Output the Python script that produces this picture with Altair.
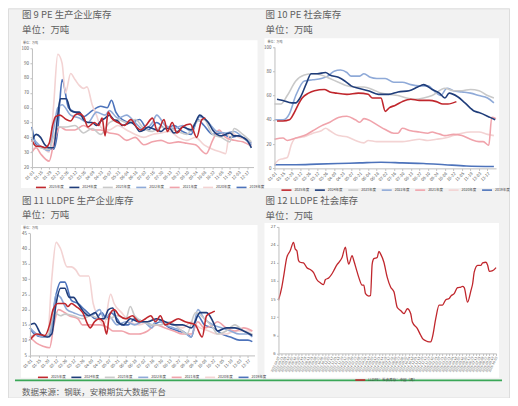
import altair as alt
import pandas as pd

BG = "#f2f2f2"
FONT = "Noto Sans CJK SC"
TXT = "#606060"
AX = "#bfbfbf"
LAB = "#595959"
GREEN = "#3aa757"

years = ["2025年度", "2024年度", "2023年度", "2022年度", "2021年度", "2020年度", "2019年度"]
year_colors = ["#c0272d", "#1f3d7a", "#c9c9c9", "#8faad8", "#f0a3ab", "#f3d3d3", "#4d73bb"]
year_widths = [1.6, 1.6, 1.2, 1.2, 1.2, 1.2, 1.2]

# ---------------- 图9 PE 生产企业库存 ----------------
pe_prod_2025_w = [0, 1, 2, 3, 4, 4.8, 5.5, 6.5, 8, 9, 10, 11, 12, 13, 14.5, 15.5, 16.3, 17, 17.7, 18.5,
                  20, 21.5, 23, 24.3, 25.3, 26.5, 28, 29.2, 30.7, 31.5, 32.6, 33.7, 35, 36.8, 38.3, 39.5, 40.3]
pe_prod_2025_v = [38, 34, 34, 33, 36, 48, 54, 55, 52, 51, 55, 56, 54, 47, 50, 48, 53, 41, 57, 53,
                  50, 48, 52, 47, 45, 48, 53, 44, 52, 44, 50, 43, 47, 49, 40, 52, 53]
pe_prod_2024_w = [0, 1, 2, 3, 4, 5, 6, 6.6] + list(range(8, 52))
pe_prod_2024_v = [38, 42, 40, 35, 33, 33, 55, 66, 66, 58, 57, 57, 52, 50, 50, 48, 51, 53,
                  55, 52, 51, 48, 49, 50, 48, 44, 45, 47, 46, 45, 44, 46, 46, 43, 44, 47, 46, 45,
                  50, 55, 53, 50, 45, 42, 41, 42, 43, 41, 41, 40, 38, 33]
pe_prod_2023_w = [0, 2, 4, 5, 6, 8, 10, 12, 14, 16, 18, 20, 22, 24, 26, 28, 30, 32, 34, 36, 38, 40, 42, 44, 46, 47, 49, 51]
pe_prod_2023_v = [36, 33, 32, 40, 47, 47, 48, 43, 46, 42, 50, 52, 50, 52, 46, 44, 47, 46, 44, 42, 50, 52, 42, 40, 37, 46, 42, 37]
pe_prod_2022_w = [0, 2, 4, 5, 6, 7, 9, 11, 13, 15, 17, 18, 20, 22, 24, 26, 28, 29, 31, 33, 35, 37, 39, 41, 43, 45, 47, 49, 51]
pe_prod_2022_v = [40, 34, 31, 45, 60, 62, 55, 53, 50, 57, 55, 58, 53, 55, 50, 45, 50, 55, 48, 46, 48, 44, 54, 50, 44, 43, 44, 40, 35]
pe_prod_2021_w = [0, 1, 2, 4, 5, 6.5, 8, 10, 12, 14, 16, 18, 20, 22, 24, 26, 28, 30, 32, 34, 36, 38, 40.5, 42, 43.5, 45, 47, 49, 51]
pe_prod_2021_v = [30, 33, 29, 24, 35, 47, 45, 45, 48, 45, 45, 43, 42, 38, 40, 35, 37, 38, 36, 37, 36, 35, 29, 38, 45, 40, 38, 37, 34]
pe_prod_2020_w = [0, 2, 4, 5, 6, 7, 7.8, 9, 10, 11, 12, 12.8, 14, 15, 16, 17, 18, 20, 22, 24,
                  26, 28, 30, 32, 34, 36, 38, 40, 42, 44, 45, 46, 48, 50, 51]
pe_prod_2020_v = [32, 34, 30, 60, 96, 90, 70, 83, 79, 75, 73, 74, 62, 55, 47, 45, 45, 48, 45, 42,
                  40, 42, 43, 44, 40, 38, 40, 35, 32, 30, 29, 44, 40, 38, 35]
pe_prod_2019_w = [0, 1, 3, 5, 6, 6.5, 7, 8.5, 10, 12, 14, 16, 17.5, 18.5, 19.5, 21, 23, 25, 27, 29,
                  31, 33, 35, 37, 38.5, 40, 42, 44, 46, 48, 50, 51]
pe_prod_2019_v = [47, 35, 33, 32, 45, 65, 79, 60, 57, 54, 58, 61, 60, 65, 57, 52, 50, 52, 45, 50,
                  46, 48, 44, 42, 52, 48, 42, 43, 40, 41, 38, 36]

# ---------------- 图10 PE 社会库存 ----------------
pe_soc_2025_w = [0.6, 2, 3.5, 4.5, 5.5, 6.5, 8, 9.4, 11.7, 13, 14.5, 17, 19.7, 22, 23, 25, 26, 27, 28.4, 30,
                 32, 34, 36.3, 38, 39.5, 40.7, 42.7]
pe_soc_2025_v = [39, 39, 40, 45, 52, 58, 62, 64, 65, 63, 62, 61, 62, 61, 58, 58, 47, 50, 52, 55,
                 57, 56, 56, 55, 53, 53, 55]
pe_soc_2024_w = [0.6, 2, 4, 5, 6, 7.5, 8.6, 10, 12, 13, 15, 16.5, 18, 19.7, 22, 24.4, 26.8, 29, 31.6, 33.6,
                 35, 37, 38.7, 40, 41, 43, 44.7, 47, 48, 50.6, 51.8]
pe_soc_2024_v = [57, 56, 54, 54, 58, 70, 78, 78, 79, 77, 75, 72, 68, 66, 64, 61, 61, 63, 64, 67,
                 69, 65, 62, 58, 62, 59, 54, 47, 46, 42, 40]
pe_soc_2023_w = [0, 1.5, 3, 5, 7, 9, 11, 13, 15, 17, 19, 21, 23, 25, 27, 29, 31, 33, 35, 37, 40, 42, 44, 46, 48, 50, 51.5]
pe_soc_2023_v = [53, 53, 60, 72, 77, 78, 77, 74, 71, 68, 67, 67, 65, 62, 61, 60, 58, 57, 58, 60, 66, 64, 64, 65, 64, 60, 58]
pe_soc_2022_w = [0, 2, 3.5, 5, 7, 9, 11, 12.5, 14, 15.5, 17, 18, 20, 21, 22.5, 24, 26, 28, 30, 32,
                 34, 36, 38, 39, 40.5, 42, 44, 46, 48, 50, 51.5]
pe_soc_2022_v = [40, 40, 45, 60, 72, 73, 74, 76, 80, 81, 79, 76, 76, 78, 75, 74, 74, 71, 71, 69,
                 68, 68, 62, 60, 66, 64, 63, 62, 60, 58, 54]
pe_soc_2021_w = [0, 2, 3, 5, 7, 9, 11, 13, 15, 17, 19, 20, 21, 22, 24, 26, 28, 29, 30, 32,
                 34, 36, 37, 38, 39, 40, 42, 44, 46, 48, 49, 50.3, 51, 52]
pe_soc_2021_v = [24, 25, 23, 25, 27, 31, 35, 38, 42, 43, 40, 38, 41, 40, 36, 32, 29, 29, 33, 31,
                 30, 29, 30, 29, 28, 27, 28, 27, 24, 22, 22, 19, 42, 41]
pe_soc_2020_w = [0, 1, 2, 3, 4, 5, 7, 9, 11, 12, 13, 15, 17, 19, 21, 22, 24, 26, 28, 30,
                 32, 34, 36, 38, 40, 42, 44, 46, 48, 50, 51.5]
pe_soc_2020_v = [3, 7, 8, 9, 20, 25, 26, 29, 31, 33, 31, 27, 26, 23, 21, 23, 22, 22, 22, 22,
                 23, 24, 23, 24, 25, 27, 29, 30, 30, 28, 27]
pe_soc_2019_w = [0, 5, 10, 15, 20, 25, 30, 35, 40, 45, 51.5]
pe_soc_2019_v = [3, 3, 3.5, 4, 4.5, 5, 4.5, 4, 3, 2, 1.5]

# ---------------- 图11 LLDPE 生产企业库存 ----------------
ll_prod_2025_w = [0, 1.5, 3.4, 4.5, 5.3, 6.4, 8, 8.7, 9.5, 10.6, 12.1, 13.3, 13.8, 14.8, 15.9, 16.8, 17.6, 18.2, 19.3, 20.5,
                  22, 23.5, 25, 26.5, 27.7, 28.8, 29.9, 31, 32.6, 34, 35.6, 37.9, 39.5, 40.5, 41.7, 42.4]
ll_prod_2025_v = [10, 12, 11.5, 15, 20, 22, 22, 21, 22, 21, 19, 15, 14, 16, 17, 16, 12, 18, 20, 18,
                  17, 18, 16, 17, 18, 16, 18, 15, 16, 17, 16, 15, 11, 18, 19, 19.5]
ll_prod_2024_w = [0, 1, 2.5, 4, 5, 6, 7, 8, 9, 10, 11, 12.5, 13.5, 15, 16, 17, 18, 19, 20, 21.5,
                  23, 25, 27, 29, 31, 33, 35, 37, 39, 40.5, 42, 43, 45, 47, 49, 51]
ll_prod_2024_v = [15, 15.5, 12, 11, 12, 22, 27, 27, 24, 24, 22, 19, 18, 19, 17, 17, 20, 20.5, 16, 15,
                  17, 16, 16, 17, 16, 15, 15, 14, 19, 19, 16, 13, 14, 14, 13, 11.5]
ll_prod_2023_w = [0, 2, 4, 5.5, 7, 8, 10, 12, 14, 16, 18, 20, 22, 23, 24, 26, 28, 30, 32, 34,
                  36, 38, 40, 42, 43, 45, 47, 49, 51]
ll_prod_2023_v = [11, 12, 11, 19, 18, 18.5, 18, 17, 18, 17, 17, 18, 17, 21, 18, 16, 15, 15, 16, 14,
                  12, 19, 17, 14, 12, 13, 15, 13, 12]
ll_prod_2022_w = [0, 1.5, 3, 4.5, 6, 7, 8.5, 10, 12, 14, 16, 17, 18, 20, 22, 24, 26, 28, 29, 31,
                  33, 35, 37, 38.5, 40, 42, 44, 46, 48, 50, 51]
ll_prod_2022_v = [14, 12, 11, 11, 25, 24, 20, 19, 18, 18, 20, 17, 18, 15, 16, 15, 16, 14, 17, 15,
                  14, 13, 11, 20, 17, 15, 14, 13, 12, 12, 11]
ll_prod_2021_w = [0, 1.5, 3, 4.5, 5.5, 6.5, 8, 9, 11, 12, 14, 16, 18, 19, 21, 23, 25, 27, 29, 31,
                  33, 35, 37, 38.5, 40, 42, 43, 45, 47, 49, 51]
ll_prod_2021_v = [11, 9, 8, 7.5, 15, 20, 19, 18, 17, 15, 15, 15, 14, 13, 13, 12, 12, 13, 15, 14,
                  13, 12, 12, 16, 14, 15, 16, 14, 13, 14, 13]
ll_prod_2020_w = [0, 2, 4, 5, 6, 7, 8.5, 9.5, 10.5, 11.5, 12.5, 13.5, 14.5, 15.5, 17, 18.5, 19.3, 21, 23, 25,
                  27, 29, 31, 33, 35, 37, 39, 41, 43, 45, 47, 49, 51]
ll_prod_2020_v = [10, 12, 11, 30, 42, 40, 34, 34, 33, 31, 31, 31, 22, 18, 15, 25, 22, 19, 16, 15,
                  16, 17, 16, 15, 14, 16, 14, 13, 12, 12, 13, 13, 13]
ll_prod_2019_w = [0, 1, 3, 4.5, 6, 7, 8, 9.5, 11, 12.5, 14, 15, 16.5, 17.5, 18.5, 20, 21, 22.5, 24, 26,
                  28, 30, 32, 34, 36, 37, 38.5, 40, 42, 44, 46, 48, 50, 51]
ll_prod_2019_v = [14, 12, 11, 12, 25, 29, 29, 23, 22, 20, 18, 17, 19, 17, 19, 17, 15, 15, 17, 16,
                  15, 16, 14, 13, 12, 11, 18, 15, 14, 12, 11, 10, 10, 9.5]

# ---------------- 图12 LLDPE 社会库存 ----------------
ll_soc_name = "LLDPE：社会库存：中国（周）"
ll_soc_w = [0, 2, 3, 5, 7, 9, 10, 11, 12, 13, 15, 17, 19, 21, 23, 25, 27, 28, 30, 32,
            33, 35, 37, 38, 40, 41, 42, 44, 45, 47, 48, 50, 51, 52, 54, 55, 56, 57, 59, 60,
            61, 63, 65, 67, 69, 71, 73, 75, 77, 79, 80, 83, 85, 86, 88, 90, 91, 92, 94, 96,
            98, 100, 102, 103, 105, 107, 109, 110, 111, 113, 115, 116, 117, 119, 121, 122, 124, 125, 126, 128,
            130]
ll_soc_v = [14.8, 17.0, 18.6, 21.9, 23.0, 24.4, 23.3, 23.0, 21.4, 21.1, 21.0, 20.2, 19.9, 19.4, 18.2, 17.7, 17.4, 18.2, 18.5, 19.2,
            19.7, 20.7, 21.4, 21.9, 23.6, 21.9, 20.8, 22.2, 21.4, 19.5, 18.6, 17.3, 17.3, 15.9, 15.5, 15.6, 20.8, 21.7, 21.9, 22.9,
            22.5, 21.1, 18.6, 17.0, 16.2, 13.6, 13.1, 12.6, 13.4, 12.6, 11.2, 10.1, 9.0, 8.5, 8.1, 7.9, 7.9, 8.7, 11.8, 14.0,
            14.0, 14.9, 15.1, 15.5, 15.9, 16.9, 17.0, 17.1, 16.9, 14.5, 16.4, 17.5, 19.5, 20.6, 20.6, 21.0, 21.1, 20.6, 19.6, 19.7,
            20.2]

pe_week_ticks = list(range(0, 52, 2))
ll_soc_ticks = list(range(0, 131, 2))

# One single view covers the whole page; every panel gets its own scales.
W, H = 502, 390


def series_df(pairs):
    rows = []
    for year, ws, vs in pairs:
        assert len(ws) == len(vs), year
        for w, v in zip(ws, vs):
            rows.append({"year": year, "week": w, "value": v})
    return pd.DataFrame(rows)


one = pd.DataFrame({"k": [0]})


def rect(x, x2, y, y2, color):
    return alt.Chart(one).mark_rect(color=color, strokeWidth=0).encode(
        x=alt.value(x), x2=alt.value(x2), y=alt.value(y), y2=alt.value(y2))


def label(text, x, y, size, color=TXT):
    return alt.Chart(pd.DataFrame({"t": [text]})).mark_text(
        align="left", baseline="middle", fontSize=size, color=color, font=FONT
    ).encode(x=alt.value(x), y=alt.value(y), text="t:N")


def hrule(x, x2, y):
    return alt.Chart(one).mark_rule(color=GREEN, strokeWidth=1.6).encode(
        x=alt.value(x), x2=alt.value(x2), y=alt.value(y))


def x_axis(values, expr, angle, size, offset):
    return alt.Axis(values=values, labelExpr=expr, labelAngle=angle, labelFontSize=size,
                    labelColor=LAB, tickSize=2, tickColor=AX, domainColor=AX, labelPadding=1,
                    title=None, grid=False, labelOverlap=False, labelFlush=False, zindex=1,
                    offset=offset, orient="bottom")


def y_axis(values, offset, size=4.5):
    return alt.Axis(values=values, labelFontSize=size, labelColor=LAB, tickSize=2, tickColor=AX,
                    domainColor=AX, labelPadding=1.5, title=None, grid=False, labelOverlap=False,
                    labelFlush=False, zindex=1, offset=offset, orient="left")


def legend(lx, ly):
    return alt.Legend(orient="none", legendX=lx, legendY=ly, direction="horizontal", columns=7,
                      symbolType="stroke", symbolSize=100, symbolStrokeWidth=1.6, labelFontSize=3.5,
                      labelOffset=2, columnPadding=1.5, title=None, padding=0, zindex=1,
                      labelFont=FONT, labelColor="#404040")


pe_expr = "timeFormat(datetime(2021, 0, 1 + datum.value * 7), '%m-%d')"


def year_lines(df, xdom, xr, ydom, yr, yvals, lx, ly):
    return alt.Chart(df).mark_line(interpolate="monotone").encode(
        x=alt.X("week:Q", scale=alt.Scale(domain=xdom, range=xr, nice=False, zero=False),
                axis=x_axis(pe_week_ticks, pe_expr, -45, 4.2, yr[0] - H)),
        y=alt.Y("value:Q", scale=alt.Scale(domain=ydom, range=yr, nice=False, zero=False),
                axis=y_axis(yvals, -xr[0])),
        color=alt.Color("year:N", scale=alt.Scale(domain=years, range=year_colors), legend=legend(lx, ly)),
        strokeWidth=alt.StrokeWidth("year:N", scale=alt.Scale(domain=years, range=year_widths), legend=None),
    )


def order_pairs(prefix):
    g = globals()
    out = []
    for y in reversed(years):
        yr = y[:4]
        out.append((y, g[f"{prefix}_{yr}_w"], g[f"{prefix}_{yr}_v"]))
    return out


df1 = series_df(order_pairs("pe_prod"))
df2 = series_df(order_pairs("pe_soc"))
df3 = series_df(order_pairs("ll_prod"))
df4 = pd.DataFrame({"week": ll_soc_w, "value": ll_soc_v, "name": ll_soc_name})

soc_expr = "timeFormat(datetime(2023, 3, 7 + datum.value * 7), '%Y-%m-%d')"
lines4 = alt.Chart(df4).mark_line(interpolate="monotone", strokeWidth=1.3).encode(
    x=alt.X("week:Q", scale=alt.Scale(domain=[0, 130], range=[271, 489], nice=False, zero=False),
            axis=x_axis(ll_soc_ticks, soc_expr, -65, 3.3, 345.7 - H)),
    y=alt.Y("value:Q", scale=alt.Scale(domain=[6, 27], range=[345.7, 218.7], nice=False, zero=False),
            axis=y_axis(list(range(6, 28, 3)), -271, 4.2)),
    color=alt.Color("name:N", scale=alt.Scale(domain=[ll_soc_name], range=["#c0272d"]),
                    legend=legend(347, 366)),
)

chart = alt.layer(
    # white panels
    rect(13, 250, 32, 180, "white"),
    rect(257, 492, 30, 180, "white"),
    rect(13, 250, 217, 370, "white"),
    rect(257, 492, 215, 370, "white"),
    # headings
    label("图 9 PE 生产企业库存", 14, 7, 9.5),
    label("单位：万吨", 14, 22, 9.5),
    label("单位：万吨", 15, 34.5, 3, LAB),
    label("图 10 PE 社会库存", 258, 7, 9.5),
    label("单位：万吨", 258, 22, 9.5),
    label("单位：万吨", 260, 33.5, 3, LAB),
    label("图 11 LLDPE 生产企业库存", 14, 192.7, 9.5),
    label("单位：万吨", 14, 207.5, 9.5),
    label("单位：万吨", 15, 220.5, 3, LAB),
    label("图 12 LLDPE 社会库存", 258, 192.7, 9.5),
    label("单位：万吨", 258, 207.7, 9.5),
    hrule(7, 495, 372.7),
    label("数据来源：钢联，安粮期货大数据平台", 14, 384.5, 8.5),
    # data
    year_lines(df1, [0, 51.5], [24, 246], [20, 100], [159, 40], list(range(20, 101, 10)), 27, 173),
    year_lines(df2, [0, 52], [267, 489], [0, 100], [160.3, 38.7], list(range(0, 101, 20)), 273, 175.7),
    year_lines(df3, [0, 51.5], [22, 247], [5, 45], [347.7, 225.3], list(range(5, 46, 5)), 29, 363.3),
    lines4,
).resolve_scale(
    x="independent", y="independent", color="independent", strokeWidth="independent"
).resolve_axis(
    x="independent", y="independent"
).resolve_legend(
    color="independent"
).properties(
    width=W, height=H, padding=0, background=BG
).configure_view(stroke=None).configure(font=FONT)

chart.save("out.html", embed_options={"renderer": "svg", "actions": False})
